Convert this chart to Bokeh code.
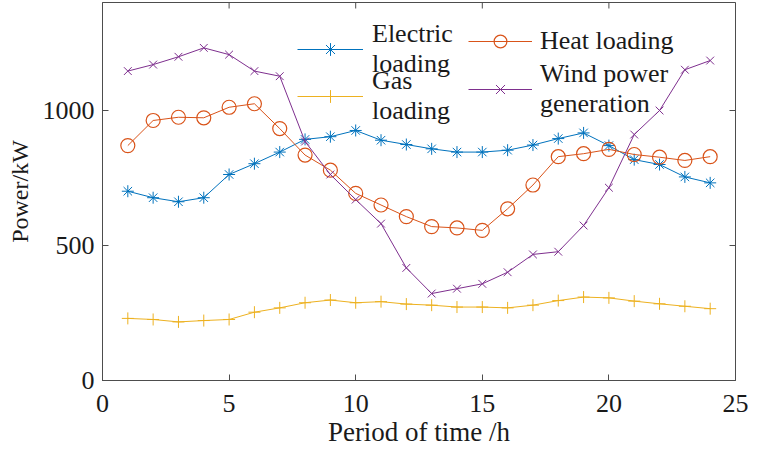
from bokeh.plotting import figure
from bokeh.models import Legend, LegendItem, FixedTicker, Range1d
from bokeh.embed import file_html
from bokeh.resources import INLINE

hours = list(range(1, 25))
electric = [701, 677, 662, 677, 763, 803, 846, 893, 903, 926, 890, 874,
            858, 846, 846, 853, 872, 896, 917, 870, 818, 800, 754, 732]
heat = [870, 963, 975, 973, 1012, 1025, 933, 835, 779, 693, 650, 607,
        570, 565, 556, 636, 724, 829, 840, 856, 837, 827, 815, 829]
gas = [230, 226, 217, 222, 226, 253, 269, 288, 298, 288, 292, 283,
       279, 272, 272, 269, 279, 296, 309, 306, 294, 284, 275, 266]
wind = [1146, 1170, 1199, 1232, 1207, 1146, 1127, 885, 763, 670, 581, 417,
        322, 340, 358, 401, 467, 477, 574, 714, 911, 1000, 1151, 1185]
x_ticks = [0, 5, 10, 15, 20, 25]
y_ticks = [0, 500, 1000]
X_MAX, Y_MAX = 25, 1400

FONT = "Liberation Serif"
C_E, C_H, C_G, C_W = "#0072BD", "#D95319", "#EDB120", "#7E2F8E"
AX = "#4d4d4d"
TXT = "#1a1a1a"

p = figure(width=748, height=455, x_range=Range1d(0, X_MAX), y_range=Range1d(0, Y_MAX),
           output_backend="svg", toolbar_location=None,
           min_border_left=102, min_border_right=13, min_border_top=2, min_border_bottom=75)
p.grid.visible = False
p.outline_line_color = AX
p.outline_line_width = 1

p.xaxis.ticker = FixedTicker(ticks=x_ticks)
p.yaxis.ticker = FixedTicker(ticks=y_ticks)
for ax in (p.xaxis[0], p.yaxis[0]):
    ax.major_tick_in = 6
    ax.major_tick_out = 0
    ax.minor_tick_line_color = None
    ax.axis_line_color = AX
    ax.major_tick_line_color = AX
    ax.major_label_text_font = FONT
    ax.major_label_text_font_size = "26px"
    ax.major_label_text_color = TXT
    ax.axis_label_text_font = FONT
    ax.axis_label_text_font_style = "normal"
    ax.axis_label_text_color = TXT
p.yaxis.major_label_standoff = 8
p.xaxis.major_label_standoff = 14
p.xaxis.axis_label = "Period of time /h"
p.xaxis.axis_label_text_font_size = "27px"
p.xaxis.axis_label_standoff = 2
p.yaxis.axis_label = "Power/kW"
p.yaxis.axis_label_text_font_size = "24px"
p.yaxis.axis_label_standoff = 7

# inward tick marks on the top and right box edges (from the tick arrays)
tx = 6 * X_MAX / 633.0
ty = 6 * Y_MAX / 378.0
p.segment(x0=x_ticks, y0=[Y_MAX] * len(x_ticks), x1=x_ticks, y1=[Y_MAX - ty] * len(x_ticks),
          line_color=AX, line_width=1)
p.segment(x0=[X_MAX] * len(y_ticks), y0=y_ticks, x1=[X_MAX - tx] * len(y_ticks), y1=y_ticks,
          line_color=AX, line_width=1)

le = p.line(hours, electric, line_color=C_E, line_width=1)
me = p.scatter(hours, electric, marker="asterisk", size=12, line_color=C_E, line_width=1)
lh = p.line(hours, heat, line_color=C_H, line_width=1)
mh = p.scatter(hours, heat, marker="circle", size=14, line_color=C_H, fill_color=None, line_width=1.2)
lg = p.line(hours, gas, line_color=C_G, line_width=1)
mg = p.scatter(hours, gas, marker="cross", size=12, line_color=C_G, line_width=1)
lw = p.line(hours, wind, line_color=C_W, line_width=1)
mw = p.scatter(hours, wind, marker="x", size=11, line_color=C_W, line_width=1)

def mk_legend(label, renderers, loc, gw, standoff):
    return Legend(items=[LegendItem(label=label, renderers=renderers)], location=loc,
                  glyph_width=gw, glyph_height=32, spacing=0,
                  padding=0, margin=0, border_line_color=None, background_fill_alpha=0,
                  label_text_font=FONT, label_text_font_size="26px", label_text_color=TXT,
                  label_text_line_height=1.2, label_standoff=standoff)

p.add_layout(mk_legend("Electric\nloading", [le, me], (195, 301), 66, 9))
p.add_layout(mk_legend("Gas\nloading", [lg, mg], (195, 254), 66, 9))
p.add_layout(mk_legend("Heat loading", [lh, mh], (366, 323), 64, 8))
p.add_layout(mk_legend("Wind power\ngeneration", [lw, mw], (366, 261), 64, 8))

open("out.html", "w").write(file_html(p, INLINE))
